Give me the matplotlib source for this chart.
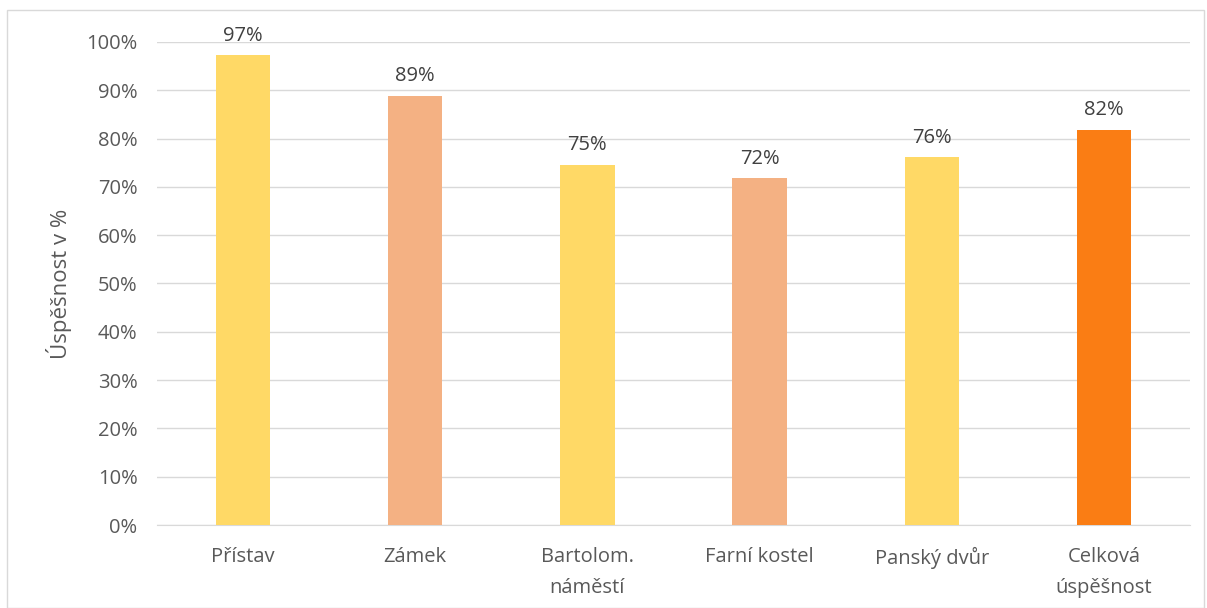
import matplotlib.pyplot as plt
from matplotlib.patches import Rectangle
from matplotlib.ticker import PercentFormatter

plt.rcParams['font.family'] = ['Open Sans', 'DejaVu Sans']

categories = ["Přístav", "Zámek", "Bartolom.\nnáměstí", "Farní kostel", "Panský dvůr", "Celková\núspěšnost"]
values = [97.2, 88.8, 74.6, 71.8, 76.1, 81.8]
labels = ["97%", "89%", "75%", "72%", "76%", "82%"]
colors = ["#FFD966", "#F4B183", "#FFD966", "#F4B183", "#FFD966", "#FA7D14"]

text_color = "#595959"

fig = plt.figure(figsize=(12.07, 6.08), dpi=100)
ax = fig.add_axes([0.130, 0.1365, 0.856, 0.7945])

x = range(len(categories))
bars = ax.bar(x, values, width=0.315, color=colors, zorder=3)
for b, lab in zip(bars, labels):
    ax.text(b.get_x() + b.get_width() / 2, b.get_height() + 2.0, lab,
            ha="center", va="bottom", fontsize=14.5, color="#404040")

ax.set_xlim(-0.5, len(categories) - 0.5)
ax.set_ylim(0, 100)
ax.set_yticks(range(0, 101, 10))
ax.yaxis.set_major_formatter(PercentFormatter(decimals=0))
ax.set_xticks(list(x))
ax.set_xticklabels(categories, linespacing=1.7, va="top")
ax.tick_params(axis="both", length=0, labelsize=14.5, labelcolor=text_color)
ax.tick_params(axis="x", pad=16)
ax.tick_params(axis="y", pad=14)
ax.grid(axis="y", color="#D9D9D9", linewidth=1, zorder=0)
for s in ["top", "right", "left"]:
    ax.spines[s].set_visible(False)
ax.spines["bottom"].set_color("#D9D9D9")
ax.set_ylabel("Úspěšnost v %", fontsize=16, color=text_color, labelpad=10)

fig.patches.append(Rectangle((7 / 1207, 0), 1197 / 1207, 1 - 10 / 608,
                             transform=fig.transFigure, fill=False,
                             edgecolor="#D9D9D9", linewidth=1))

fig.savefig("out.png", dpi=100)
